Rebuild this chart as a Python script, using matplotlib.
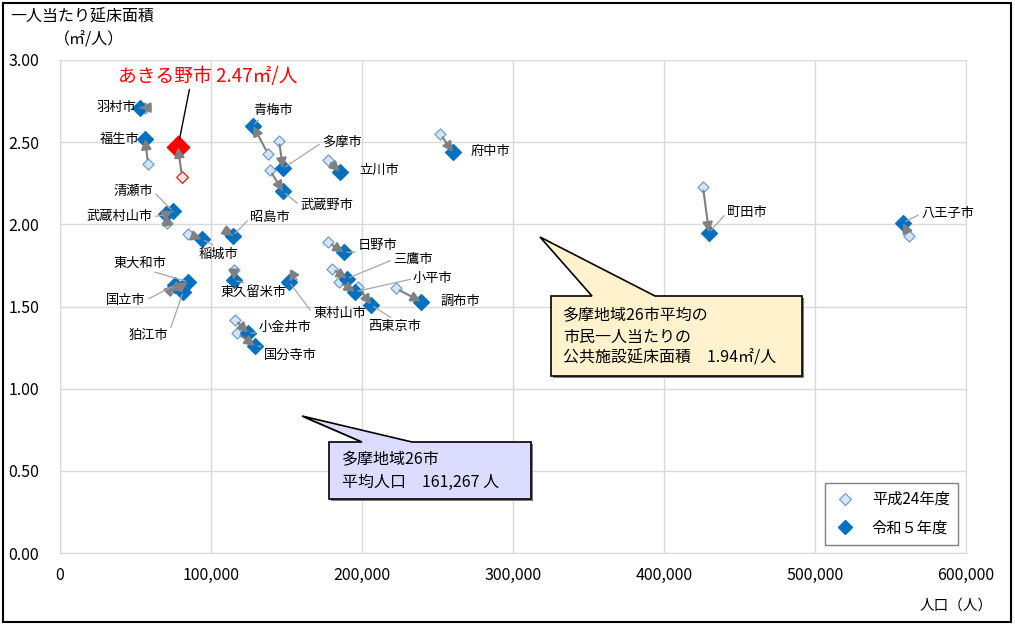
import matplotlib
matplotlib.use("Agg")
import matplotlib.pyplot as plt
from matplotlib.patches import Polygon, Rectangle
from matplotlib.lines import Line2D

plt.rcParams['font.family'] = ['Noto Sans CJK JP', 'DejaVu Sans']

# 多摩地域26市: 人口と一人当たり延床面積 (平成24年度 -> 令和5年度)
cities = ["羽村市", "福生市", "あきる野市", "青梅市", "多摩市", "武蔵野市", "立川市", "府中市",
          "清瀬市", "武蔵村山市", "昭島市", "稲城市", "東大和市", "国立市", "狛江市", "東久留米市",
          "東村山市", "小金井市", "国分寺市", "日野市", "三鷹市", "小平市", "西東京市", "調布市",
          "町田市", "八王子市"]
pop_h24 = [56300, 58300, 80800, 137700, 145000, 139000, 177500, 251700,
           72200, 70900, 111300, 84800, 79500, 72800, 78100, 115200,
           153000, 115900, 117200, 177500, 180100, 184800, 197400, 222500,
           425800, 562300]
area_h24 = [2.71, 2.37, 2.29, 2.43, 2.51, 2.33, 2.39, 2.55,
            2.07, 2.01, 1.95, 1.94, 1.62, 1.60, 1.61, 1.72,
            1.67, 1.42, 1.34, 1.89, 1.73, 1.65, 1.62, 1.61,
            2.23, 1.93]
pop_r5 = [53000, 56300, 78100, 127800, 147700, 147700, 185400, 260300,
          74800, 70200, 114600, 94000, 84800, 76200, 81500, 115200,
          151700, 124500, 129100, 188000, 190100, 195400, 206000, 239100,
          429800, 558300]
area_r5 = [2.71, 2.52, 2.47, 2.60, 2.34, 2.20, 2.32, 2.44,
           2.08, 2.06, 1.93, 1.91, 1.65, 1.63, 1.59, 1.66,
           1.65, 1.34, 1.26, 1.83, 1.67, 1.59, 1.51, 1.53,
           1.95, 2.01]
highlight = "あきる野市"
avg_area = "1.94"
avg_pop = "161,267"

# label placement: offset in pixels from the 令和5年度 point (x right, y down), ha, leader relpos
label_layout = {
    "羽村市": (-4, 0, "right", None),
    "福生市": (-6, 1, "right", None),
    "青梅市": (20, -15, "center", (0.2, 0)),
    "多摩市": (39, -26, "left", (0, 0.5)),
    "武蔵野市": (17, 14, "left", (0, 0.5)),
    "立川市": (19, -1, "left", None),
    "府中市": (18, -1, "left", None),
    "清瀬市": (-20, -20, "right", (1, 0.5)),
    "武蔵村山市": (-13, 2, "right", (0.5, 0)),
    "昭島市": (17, -18, "left", (0, 0.5)),
    "稲城市": (16, 15, "center", (0.5, 1)),
    "東大和市": (-48, -19, "center", (0.6, 0)),
    "国立市": (-29, 15, "right", (1, 0.5)),
    "狛江市": (-15, 44, "right", (1, 0.5)),
    "東久留米市": (20, 12, "center", (0.5, 1)),
    "東村山市": (24, 32, "left", (0, 0.5)),
    "小金井市": (37, -5, "center", (0.5, 0)),
    "国分寺市": (35, 9, "center", (0.5, 1)),
    "日野市": (34, -7, "center", (0.5, 0)),
    "三鷹市": (46, -19, "left", (0, 0.5)),
    "小平市": (58, -13, "left", (0, 0.5)),
    "西東京市": (24, 22, "center", (0.5, 1)),
    "調布市": (19, 0, "left", None),
    "町田市": (18, -20, "left", (0, 0.5)),
    "八王子市": (18, -9, "left", (0, 0.5)),
}

W, H = 1015, 627
fig = plt.figure(figsize=(W / 100, H / 100), dpi=100)
ax = fig.add_axes([60 / W, 1 - 553 / H, 906 / W, 493 / H])


def fpx(x, y):
    # figure pixel (from top-left) -> figure fraction
    return (x / W, 1 - y / H)


ax.set_xlim(0, 600000)
ax.set_ylim(0, 3.0)
ax.set_xticks(range(0, 600001, 100000))
ax.set_xticklabels(["0"] + [f"{v:,}" for v in range(100000, 600001, 100000)])
ax.set_yticks([0, 0.5, 1.0, 1.5, 2.0, 2.5, 3.0])
ax.set_yticklabels([f"{v:.2f}" for v in [0, 0.5, 1.0, 1.5, 2.0, 2.5, 3.0]])
ax.tick_params(length=0, labelsize=11.5)
ax.tick_params(axis="y", pad=15)
ax.tick_params(axis="x", pad=10)
ax.grid(True, color="#D9D9D9", lw=1)
ax.set_axisbelow(True)
for s in ax.spines.values():
    s.set_color("#D9D9D9")

hi = cities.index(highlight)
for i in range(len(cities)):
    if i == hi:
        ax.scatter(pop_h24[i], area_h24[i], marker="D", s=36, facecolor="#FCE4E4",
                   edgecolor="#FF0000", lw=0.8, zorder=3)
        ax.scatter(pop_r5[i], area_r5[i], marker="D", s=130, color="#FF0000", zorder=4)
    else:
        ax.scatter(pop_h24[i], area_h24[i], marker="D", s=32, facecolor="#DAE3F3",
                   edgecolor="#5B9BD5", lw=0.8, zorder=3)
        ax.scatter(pop_r5[i], area_r5[i], marker="D", s=64, color="#0070C0", zorder=4)
    ax.annotate("", xy=(pop_r5[i], area_r5[i]), xytext=(pop_h24[i], area_h24[i]),
                arrowprops=dict(arrowstyle="-|>", color="#808080", lw=1.5,
                                mutation_scale=15, shrinkA=3, shrinkB=0), zorder=5)

for name, (dx, dy, ha, rel) in label_layout.items():
    i = cities.index(name)
    kw = {}
    if rel is not None:
        kw["arrowprops"] = dict(arrowstyle="-", color="#A6A6A6", lw=0.9,
                                shrinkA=0, shrinkB=2, relpos=rel)
    ax.annotate(name, xy=(pop_r5[i], area_r5[i]), xytext=(dx, -dy),
                textcoords="offset pixels", ha=ha, va="center", fontsize=9.5,
                zorder=6, **kw)

ax.annotate(f"{highlight} {area_r5[hi]:.2f}㎡/人", xy=(pop_r5[hi], area_r5[hi]),
            xytext=(30, 71), textcoords="offset pixels", ha="center", va="center",
            fontsize=13.5, color="#FF0000",
            arrowprops=dict(arrowstyle="-", color="black", lw=1, shrinkA=0, shrinkB=6,
                            relpos=(0.4, 0)), zorder=6)

# legend
h_old = Line2D([], [], marker="D", ls="none", ms=6, mfc="#DAE3F3", mec="#5B9BD5", mew=0.8)
h_new = Line2D([], [], marker="D", ls="none", ms=7, mfc="#0070C0", mec="#0070C0")
leg = ax.legend([h_old, h_new], ["平成24年度", "令和５年度"], loc="lower right",
                bbox_to_anchor=(898 / 906, 8 / 493), borderaxespad=0, fontsize=11,
                fancybox=False, framealpha=1, edgecolor="#808080", handlelength=1.5,
                handletextpad=1.0, labelspacing=0.75, borderpad=0.55)
leg.get_frame().set_linewidth(1)

# callout boxes
box1 = [(551, 296), (592, 296), (540, 237), (655, 296), (802, 296), (802, 376), (551, 376)]
box2 = [(329, 442), (362, 442), (302, 416), (412, 442), (531, 442), (531, 499), (329, 499)]
for pts, fc in [(box1, "#FFF2CC"), (box2, "#DCDCFF")]:
    shadow = Polygon([fpx(x + 2, y + 2) for x, y in pts], closed=True, transform=fig.transFigure,
                     facecolor="#7F7F7F", edgecolor="none", zorder=7)
    poly = Polygon([fpx(x, y) for x, y in pts], closed=True, transform=fig.transFigure,
                   facecolor=fc, edgecolor="black", lw=1.2, zorder=8)
    fig.add_artist(shadow)
    fig.add_artist(poly)

for k, line in enumerate(["多摩地域26市平均の", "市民一人当たりの", f"公共施設延床面積　{avg_area}㎡/人"]):
    fig.text(*fpx(563, 316 + 21 * k), line, fontsize=11.5, va="center", ha="left", zorder=9)
for k, line in enumerate(["多摩地域26市", f"平均人口　{avg_pop} 人"]):
    fig.text(*fpx(342, 460 + 22 * k), line, fontsize=11.5, va="center", ha="left", zorder=9)

# axis titles
fig.text(*fpx(10, 17), "一人当たり延床面積", fontsize=11.5, va="center", ha="left")
fig.text(*fpx(54, 40), "（㎡/人）", fontsize=11.5, va="center", ha="left")
fig.text(*fpx(993, 606), "人口（人）", fontsize=10.5, va="center", ha="right")

# outer frame
fig.add_artist(Rectangle(fpx(3, 622), 1008 / W, 619 / H, transform=fig.transFigure,
                         fill=False, edgecolor="black", lw=1.5))

fig.savefig("out.png", dpi=100)
